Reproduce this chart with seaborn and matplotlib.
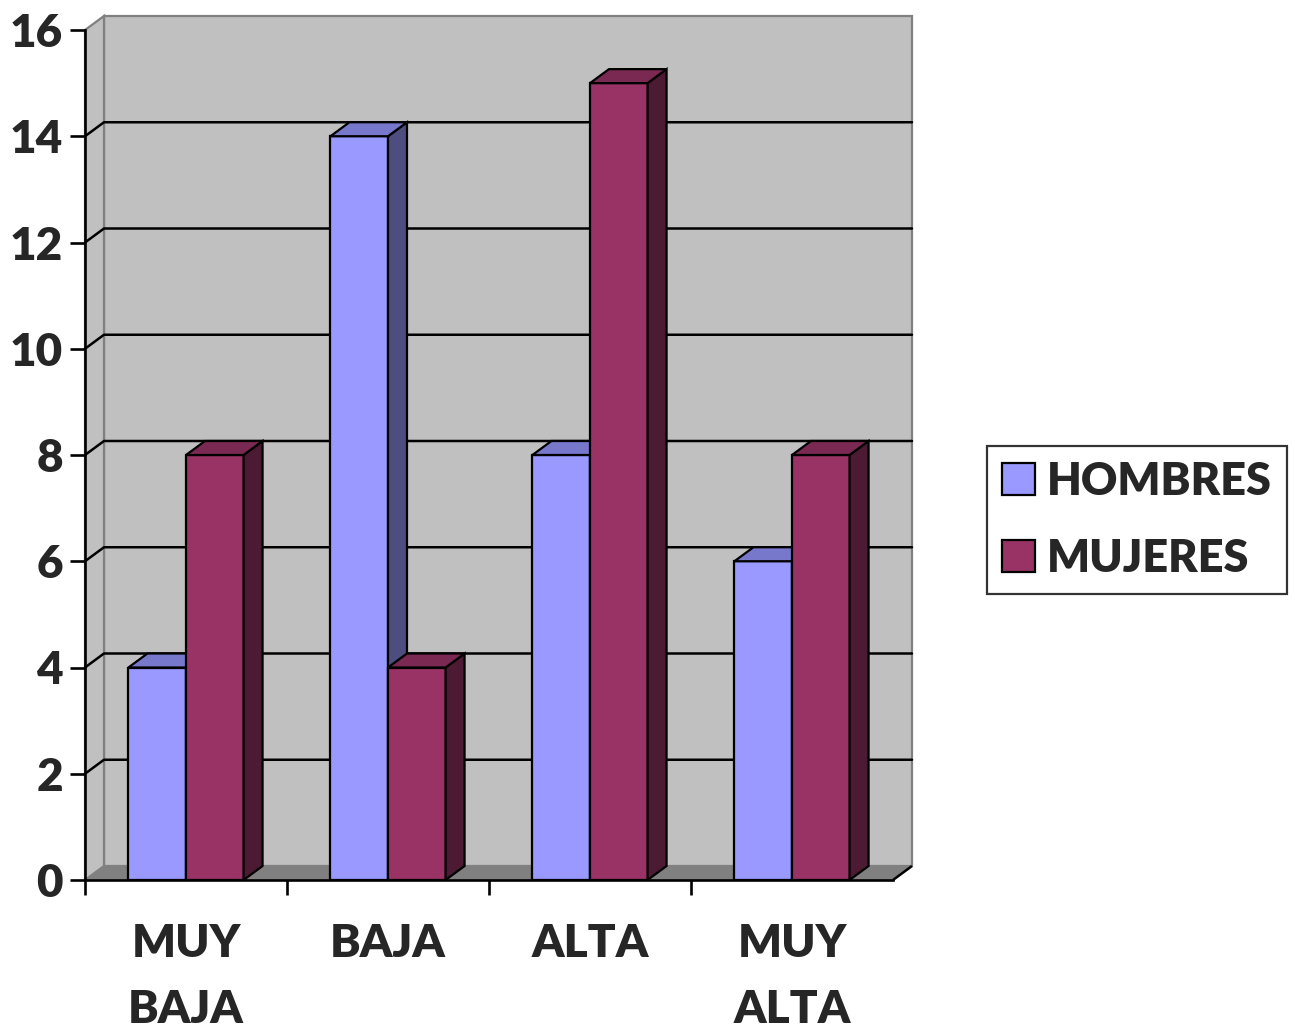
import matplotlib
matplotlib.use("Agg")
import matplotlib.pyplot as plt
from matplotlib.patches import Polygon, Patch
import seaborn as sns
import pandas as pd

# Survey counts by level and sex
categorias = ["MUY\nBAJA", "BAJA", "ALTA", "MUY\nALTA"]
series = ["HOMBRES", "MUJERES"]
hombres = [4, 14, 8, 6]
mujeres = [8, 4, 15, 8]
y_ticks = [0, 2, 4, 6, 8, 10, 12, 14, 16]

df = pd.DataFrame({
    "nivel": categorias * 2,
    "sexo": [series[0]] * len(categorias) + [series[1]] * len(categorias),
    "cantidad": hombres + mujeres,
})

sns.set_style("white")
plt.rcParams["font.family"] = ["Lato", "DejaVu Sans"]
plt.rcParams["font.weight"] = "heavy"

front = ["#9999FF", "#993366"]
top_c = ["#7777CC", "#7A2952"]
side_c = ["#4D4D80", "#4D1A33"]

W, H = 1294, 1031
fig = plt.figure(figsize=(W / 100, H / 100), dpi=100)
ax = fig.add_axes([85 / W, 151 / H, 808 / W, 850 / H])

sns.barplot(data=df, x="nivel", y="cantidad", hue="sexo", palette=front,
            saturation=1, width=0.57, edgecolor="black", linewidth=1.6,
            legend=False, ax=ax, zorder=2)

ax.set_xlim(-0.5, 3.5)
ax.set_ylim(0, 16)

# depth offset of the pseudo-3D view, expressed in data units
dx = 19 * 4 / 808
dy = 14 * 16 / 850
x0, x1, ytop = -0.5, 3.5, 16

wall_kw = dict(clip_on=False, linewidth=1.6, edgecolor="#808080", joinstyle="miter")
ax.add_patch(Polygon([(x0 + dx, dy), (x1 + dx, dy), (x1 + dx, ytop + dy), (x0 + dx, ytop + dy)],
                     facecolor="#C0C0C0", zorder=0.1, **wall_kw))
ax.add_patch(Polygon([(x0, 0), (x0 + dx, dy), (x0 + dx, ytop + dy), (x0, ytop)],
                     facecolor="#C0C0C0", zorder=0.2, **wall_kw))
ax.add_patch(Polygon([(x0, 0), (x1, 0), (x1 + dx, dy), (x0 + dx, dy)],
                     facecolor="#808080", zorder=0.3, clip_on=False, linewidth=0))
ax.plot([x1, x1 + dx], [0, dy], color="black", lw=1.8, zorder=0.4, clip_on=False,
        solid_capstyle="butt")

# gridlines on the back wall, joined to the axis across the side wall
for yv in y_ticks[1:-1]:
    ax.plot([x0, x0 + dx, x1 + dx], [yv, yv + dy, yv + dy], color="black", lw=1.8,
            zorder=0.5, clip_on=False)

# side and top faces of every bar
for k, cont in enumerate(ax.containers):
    for bar in cont:
        bx, bw, bh = bar.get_x(), bar.get_width(), bar.get_height()
        z = 2 + k
        bar.set_zorder(z)
        ax.add_patch(Polygon([(bx + bw, 0), (bx + bw + dx, dy), (bx + bw + dx, bh + dy), (bx + bw, bh)],
                             facecolor=side_c[k], edgecolor="black", linewidth=1.6, zorder=z,
                             joinstyle="miter"))
        ax.add_patch(Polygon([(bx, bh), (bx + dx, bh + dy), (bx + bw + dx, bh + dy), (bx + bw, bh)],
                             facecolor=top_c[k], edgecolor="black", linewidth=1.6, zorder=z,
                             joinstyle="miter"))

for s in ["top", "right"]:
    ax.spines[s].set_visible(False)
for s in ["left", "bottom"]:
    ax.spines[s].set_color("black")
    ax.spines[s].set_linewidth(1.9)
    ax.spines[s].set_zorder(5)

fs = 33
ax.set_yticks(y_ticks)
ax.set_yticklabels([str(v) for v in y_ticks], fontsize=fs, fontweight="heavy")
ax.tick_params(axis="y", length=11, width=1.9, color="black", pad=5, left=True)

ax.set_xticks([-0.5, 0.5, 1.5, 2.5])
ax.set_xticklabels([])
ax.tick_params(axis="x", which="major", length=11, width=1.9, color="black", bottom=True)
ax.set_xticks(range(len(categorias)), minor=True)
ax.set_xticklabels(categorias, minor=True, fontsize=fs, fontweight="heavy", linespacing=1.72)
ax.tick_params(axis="x", which="minor", length=0, pad=31)
ax.set_xlabel("")
ax.set_ylabel("")

handles = [Patch(facecolor=front[i], edgecolor="black", linewidth=1.6) for i in range(2)]
leg = fig.legend(handles, series, loc="upper left",
                 bbox_to_anchor=(987 / W, 585 / H), bbox_transform=fig.transFigure,
                 prop={"size": 32.4, "weight": "heavy"}, frameon=True, fancybox=False,
                 handlelength=0.74, handleheight=0.74, handletextpad=0.27,
                 labelspacing=0.8, borderpad=0.33, borderaxespad=0)
leg.get_frame().set_edgecolor("black")
leg.get_frame().set_linewidth(1.6)

fig.savefig("out.png", dpi=100)
